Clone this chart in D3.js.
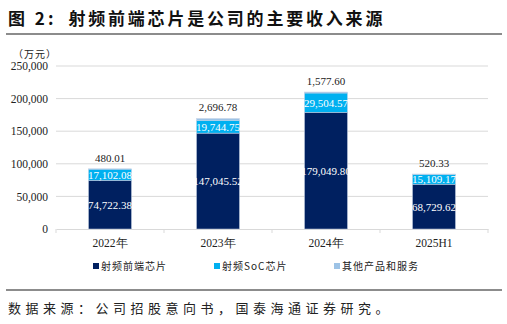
<!DOCTYPE html>
<html><head><meta charset="utf-8">
<script src="https://cdn.jsdelivr.net/npm/d3@7"></script>
<style>body{margin:0;background:#fff;}</style>
</head><body>
<script>
const categories = ["2022年", "2023年", "2024年", "2025H1"];
const rfFrontEnd = [74722.38, 147045.52, 179049.80, 68729.62];
const rfSoC = [17102.08, 19744.75, 29504.57, 15109.17];
const others = [480.01, 2696.78, 1577.60, 520.33];
const seriesNames = ["射频前端芯片", "射频SoC芯片", "其他产品和服务"];
const seriesColors = ["#002060", "#00B0F0", "#9DC3E6"];
const yTicks = [0, 50000, 100000, 150000, 200000, 250000];

const W = 507, H = 324;
const svg = d3.select("body").append("svg").attr("width", W).attr("height", H);
const serif = "'Liberation Serif','Times New Roman',serif";
const cjk = "'Noto Sans CJK SC',sans-serif";

// title
const title = svg.append("text").attr("x", 8).attr("y", 25).attr("font-family", cjk).attr("font-weight", "bold")
  .attr("font-size", 17).attr("fill", "#111");
title.append("tspan").attr("letter-spacing", 3).text("图 2:");
title.append("tspan").attr("dx", 12).attr("letter-spacing", 2.8).text("射频前端芯片是公司的主要收入来源");
svg.append("line").attr("x1", 6).attr("x2", 502).attr("y1", 34).attr("y2", 34).attr("stroke", "#666").attr("stroke-width", 1.5);
svg.append("text").attr("x", 13).attr("y", 58).attr("font-family", cjk).attr("font-size", 10).attr("letter-spacing", 1)
  .attr("fill", "#222").text("（万元）");

const x = d3.scaleBand().domain(categories).range([56, 488]).paddingInner(0.6).paddingOuter(0.3);
const y = d3.scaleLinear().domain([0, 250000]).range([229, 66]);

// grid
svg.append("g").selectAll("line").data(yTicks.slice(1)).join("line")
  .attr("x1", 56).attr("x2", 488).attr("y1", d => y(d)).attr("y2", d => y(d))
  .attr("stroke", "#d9d9d9").attr("stroke-width", 1);

// y axis labels
const yAxis = d3.axisLeft(y).tickValues(yTicks).tickSize(0).tickPadding(0).tickFormat(d3.format(","));
const ya = svg.append("g").attr("transform", "translate(48,0)").call(yAxis);
ya.select(".domain").remove();
ya.selectAll("text").attr("font-family", serif).attr("font-size", 11.5).attr("fill", "#222");

// x axis
const xa = svg.append("g").attr("transform", "translate(0,229)").call(d3.axisBottom(x).tickSize(0).tickPadding(10));
xa.select(".domain").attr("stroke", "#d9d9d9");
xa.selectAll("text").attr("font-family", serif).attr("font-size", 11.5).attr("fill", "#222");
const band = (488 - 56) / categories.length;
svg.append("g").selectAll("line").data(d3.range(categories.length + 1)).join("line")
  .attr("x1", i => 56 + i * band).attr("x2", i => 56 + i * band).attr("y1", 229).attr("y2", 233)
  .attr("stroke", "#d9d9d9");

// stacks
const data = categories.map((c, i) => ({cat: c, s0: rfFrontEnd[i], s1: rfSoC[i], s2: others[i]}));
const stack = d3.stack().keys(["s0", "s1", "s2"])(data);
const bw = 43;
stack.forEach((layer, li) => {
  svg.append("g").selectAll("rect").data(layer).join("rect")
    .attr("x", d => x(d.data.cat) + x.bandwidth() / 2 - bw / 2)
    .attr("width", bw)
    .attr("y", d => y(d[1]))
    .attr("height", d => y(d[0]) - y(d[1]))
    .attr("fill", seriesColors[li])
    .attr("stroke", "#c8d3e6").attr("stroke-width", 0.5);
});
const fmt = d3.format(",.2f");
// labels inside
stack.slice(0, 2).forEach((layer, li) => {
  svg.append("g").selectAll("text").data(layer).join("text")
    .attr("x", d => x(d.data.cat) + x.bandwidth() / 2)
    .attr("y", d => (y(d[0]) + y(d[1])) / 2 + 4)
    .attr("text-anchor", "middle").attr("font-family", serif).attr("font-size", 11).attr("fill", "#fff")
    .text(d => fmt(d[1] - d[0]));
});
svg.append("g").selectAll("text").data(stack[2]).join("text")
  .attr("x", d => x(d.data.cat) + x.bandwidth() / 2)
  .attr("y", d => y(d[1]) - 7)
  .attr("text-anchor", "middle").attr("font-family", serif).attr("font-size", 11).attr("fill", "#222")
  .text(d => fmt(d[1] - d[0]));

// legend
const lx = [93, 214, 334];
seriesNames.forEach((n, i) => {
  svg.append("rect").attr("x", lx[i]).attr("y", 263).attr("width", 6).attr("height", 6).attr("fill", seriesColors[i]);
  svg.append("text").attr("x", lx[i] + 8).attr("y", 270).attr("font-family", cjk).attr("font-size", 10)
    .attr("letter-spacing", 1).attr("fill", "#222").text(n);
});

// footer
svg.append("line").attr("x1", 6).attr("x2", 502).attr("y1", 290).attr("y2", 290).attr("stroke", "#666").attr("stroke-width", 1.5);
svg.append("text").attr("x", 8).attr("y", 313).attr("font-family", cjk).attr("font-size", 13).attr("letter-spacing", 4.5)
  .attr("fill", "#222").text("数据来源：公司招股意向书，国泰海通证券研究。");
</script>
</body></html>
